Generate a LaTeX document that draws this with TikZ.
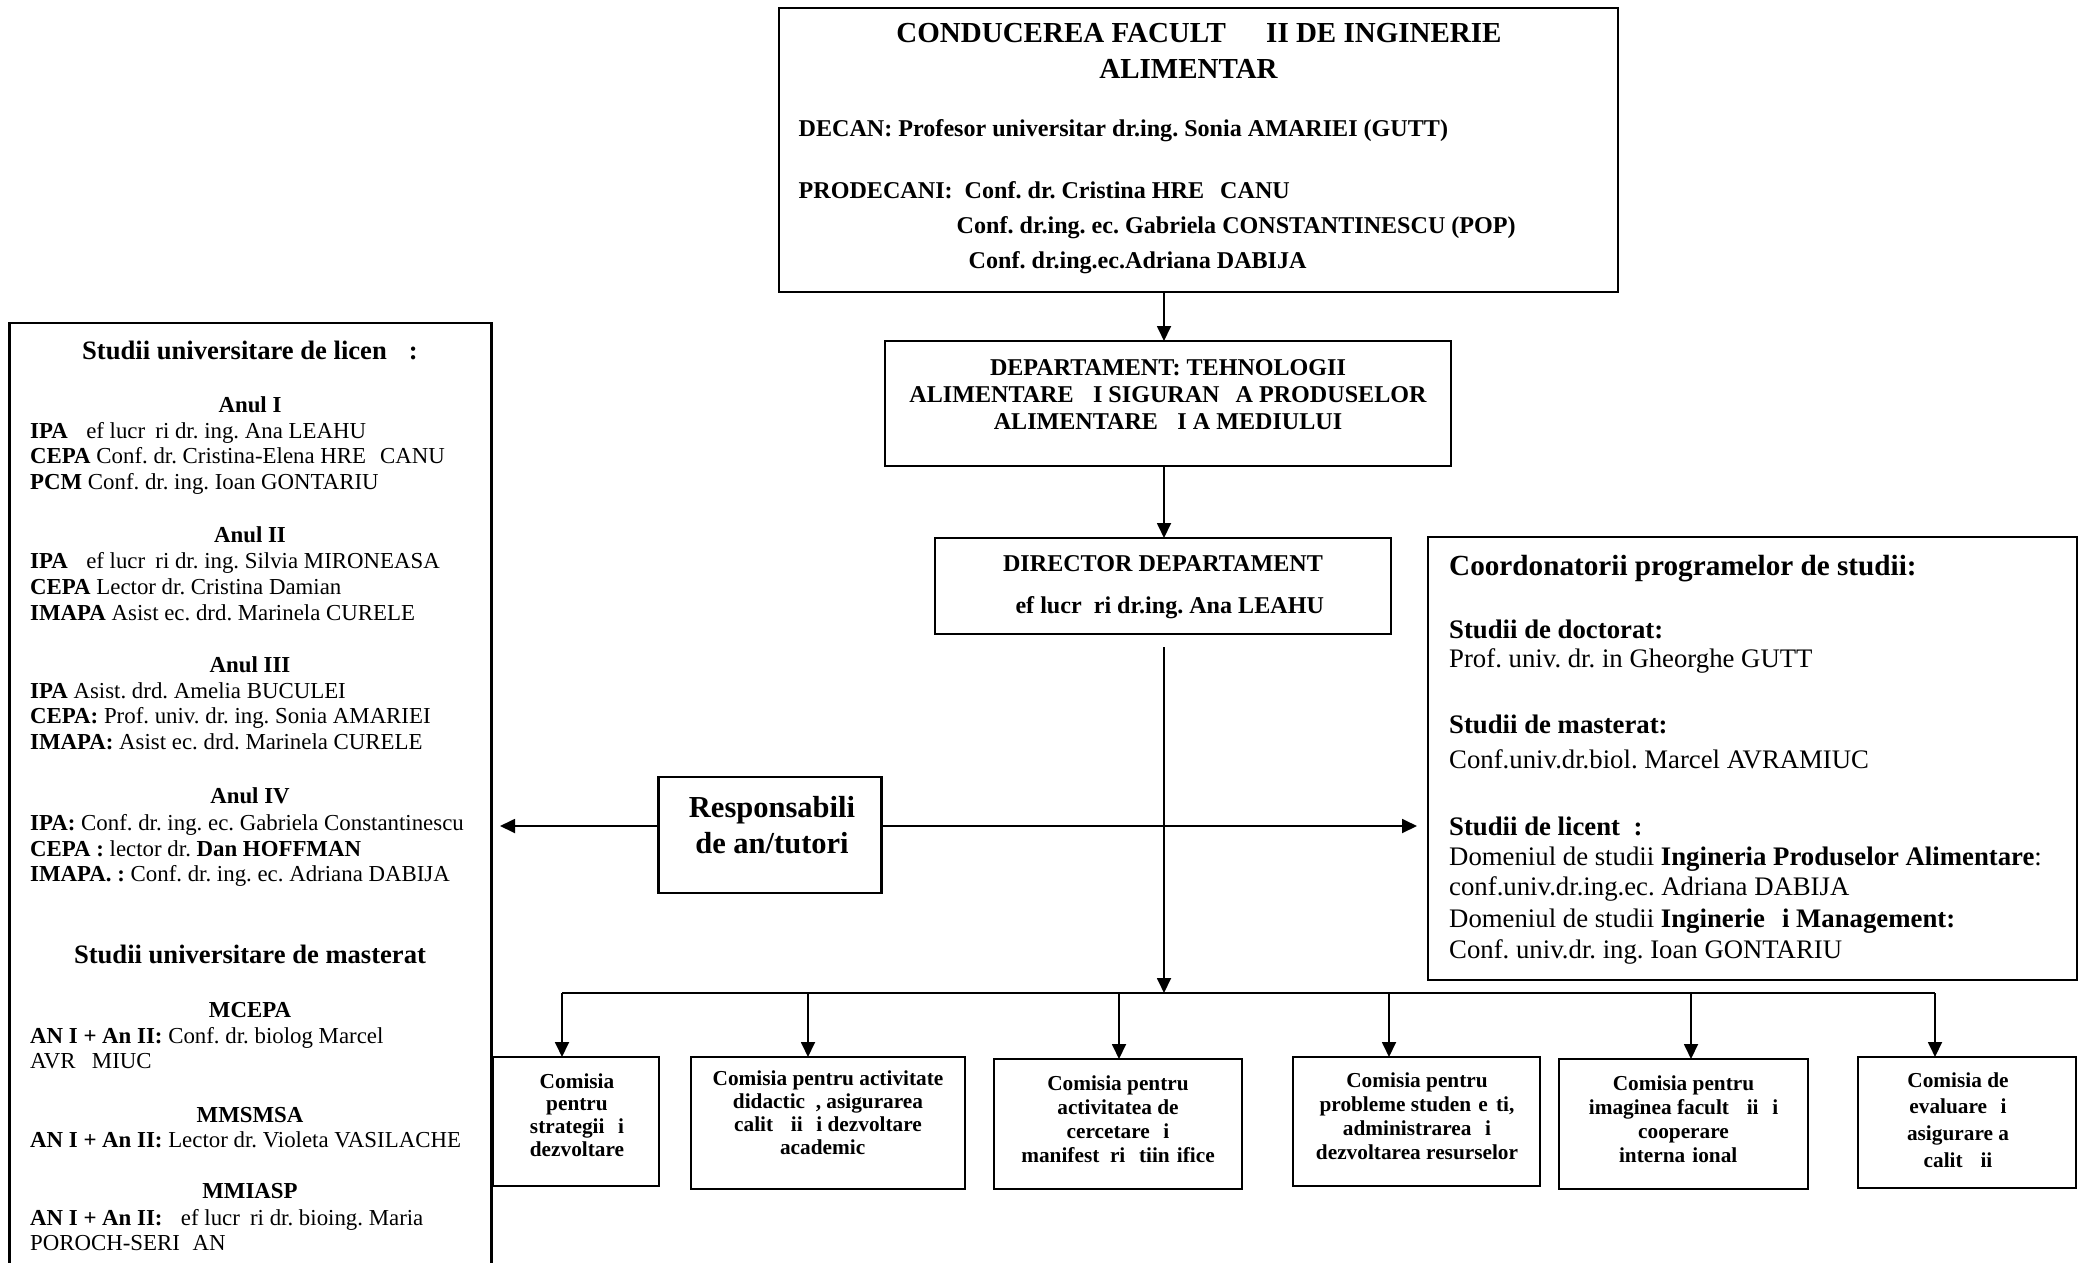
\documentclass[tikz,border=0pt]{standalone}
\usepackage{fontspec}
\setmainfont{Liberation Serif}
\usetikzlibrary{arrows.meta}
\frenchspacing
\newcommand\myTitleFont{\fontsize{29}{33}\selectfont\bfseries}
\newcommand\myTopFont{\fontsize{24.1}{27}\selectfont\bfseries}
\newcommand\myLeftFont{\fontsize{22.85}{25.8}\selectfont}
\newcommand\myLeftHead{\fontsize{26.6}{30}\selectfont\bfseries}
\newcommand\myRightFont{\fontsize{26.75}{30}\selectfont}
\newcommand\myRightHead{\fontsize{29.2}{33}\selectfont\bfseries}
\newcommand\myComFont{\fontsize{21.3}{24}\selectfont\bfseries}
\newcommand\myRespFont{\fontsize{30.5}{35}\selectfont\bfseries}
\begin{document}
\frenchspacing
\begin{tikzpicture}[x=1pt,y=-1pt,
  box/.style={draw, line width=2.4pt, inner sep=0pt, outer sep=0pt},
  conn/.style={line width=1.8pt},
  arr/.style={conn, -{Triangle[length=15pt,width=14pt]}},
  tl/.style={inner sep=0pt, anchor=base west},
  tc/.style={inner sep=0pt, anchor=base},
  every node/.append style={execute at begin node=\frenchspacing},
]
\useasboundingbox[fill=white] (0,0) rectangle (2086,1263);

% ---------- boxes ----------
\node[box, minimum width=839pt, minimum height=284pt] (top) at (1198.5,150) {};
\node[box, minimum width=566pt, minimum height=125pt] (dept) at (1168,403.5) {};
\node[box, minimum width=456pt, minimum height=96pt] (dir) at (1163,586) {};
\node[box, minimum width=482pt, minimum height=967pt] (lbox) at (250.5,806.5) {};
\node[box, minimum width=649pt, minimum height=443pt] (rbox) at (1752.5,758.5) {};
\node[box, minimum width=223pt, minimum height=116pt] (resp) at (770,835) {};
\node[box, minimum width=166pt, minimum height=129pt] (b1) at (576,1121.5) {};
\node[box, minimum width=274pt, minimum height=132pt] (b2) at (828,1123) {};
\node[box, minimum width=248pt, minimum height=130pt] (b3) at (1118,1124) {};
\node[box, minimum width=247pt, minimum height=129pt] (b4) at (1416.5,1121.5) {};
\node[box, minimum width=249pt, minimum height=130pt] (b5) at (1683.5,1124) {};
\node[box, minimum width=218pt, minimum height=131pt] (b6) at (1967,1122.5) {};

% ---------- connectors ----------
\coordinate (vx) at (1164,0);
\draw[arr] (top.south -| vx) -- (dept.north -| vx);
\draw[arr] (dept.south -| vx) -- (dir.north -| vx);
\coordinate (dstart) at (1164,647);
\coordinate (busL) at (562,993);
\coordinate (busR) at (1935,993);
\draw[conn] (busL) -- (busR);
\draw[arr] (dstart) -- (dstart |- busL);
\coordinate (d1) at (562,993);
\coordinate (d2) at (808,993);
\coordinate (d3) at (1119,993);
\coordinate (d4) at (1389,993);
\coordinate (d5) at (1691,993);
\coordinate (d6) at (1935,993);
\draw[arr] (d1) -- (d1 |- b1.north);
\draw[arr] (d2) -- (d2 |- b2.north);
\draw[arr] (d3) -- (d3 |- b3.north);
\draw[arr] (d4) -- (d4 |- b4.north);
\draw[arr] (d5) -- (d5 |- b5.north);
\draw[arr] (d6) -- (d6 |- b6.north);
\coordinate (ltip) at (500,826);
\coordinate (rtip) at (1417,826);
\draw[arr] (ltip -| resp.west) -- (ltip);
\draw[arr] (rtip -| resp.east) -- (rtip);

% ---------- top box text ----------
\node[tc] (t1) at (1199,43) {\myTitleFont CONDUCEREA FACULT\phantom{ĂŢ}II DE INGINERIE};
\node[tc] (t2) at (1199,78) {\myTitleFont ALIMENTAR\phantom{Ă}};
\node[tl] (t3) at (798.5,136) {\myTopFont DECAN: Profesor universitar dr.ing. Sonia AMARIEI (GUTT)};
\node[tl] (t4) at (798.5,198) {\myTopFont PRODECANI:\ \ Conf. dr. Cristina HRE\phantom{Ţ}CANU};
\node[tl] (t5) at (956.5,233) {\myTopFont Conf. dr.ing. ec. Gabriela CONSTANTINESCU (POP)};
\node[tl] (t6) at (968.5,268) {\myTopFont Conf. dr.ing.ec.Adriana DABIJA};

% ---------- department ----------
\node[tc] (dp1) at (1168,375) {\myTopFont DEPARTAMENT: TEHNOLOGII};
\node[tc] (dp2) at (1168,402) {\myTopFont ALIMENTARE \phantom{Ş}I SIGURAN\phantom{Ţ}A PRODUSELOR};
\node[tc] (dp3) at (1168,429) {\myTopFont ALIMENTARE \phantom{Ş}I A MEDIULUI};
\node[tc] (dr1) at (1163,571) {\myTopFont DIRECTOR DEPARTAMENT};
\node[tc] (dr2) at (1163,613) {\myTopFont \phantom{Ş}ef lucr\phantom{ă}ri dr.ing. Ana LEAHU};

% ---------- responsabili ----------
\node[tc] (rs1) at (772,817) {\myRespFont Responsabili};
\node[tc] (rs2) at (772,853) {\myRespFont de an/tutori};

% ---------- left box ----------
\node[tc] (lh1) at (250,359) {\myLeftHead Studii universitare de licen\phantom{ţă}:};
\node[tc] (la1) at (250,412) {\myLeftFont\bfseries Anul I};
\node[tl] (l1) at (30,438) {\myLeftFont\textbf{IPA} \phantom{Ş}ef lucr\phantom{ă}ri dr. ing. Ana LEAHU};
\node[tl] (l2) at (30,463) {\myLeftFont\textbf{CEPA} Conf. dr. Cristina-Elena HRE\phantom{Ţ}CANU};
\node[tl] (l3) at (30,489) {\myLeftFont\textbf{PCM} Conf. dr. ing. Ioan GONTARIU};
\node[tc] (la2) at (250,542) {\myLeftFont\bfseries Anul II};
\node[tl] (l4) at (30,568) {\myLeftFont\textbf{IPA} \phantom{Ş}ef lucr\phantom{ă}ri dr. ing. Silvia MIRONEASA};
\node[tl] (l5) at (30,594) {\myLeftFont\textbf{CEPA} Lector dr. Cristina Damian};
\node[tl] (l6) at (30,620) {\myLeftFont\textbf{IMAPA} Asist ec. drd. Marinela CURELE};
\node[tc] (la3) at (250,672) {\myLeftFont\bfseries Anul III};
\node[tl] (l7) at (30,698) {\myLeftFont\textbf{IPA} Asist. drd. Amelia BUCULEI};
\node[tl] (l8) at (30,723) {\myLeftFont\textbf{CEPA:} Prof. univ. dr. ing. Sonia AMARIEI};
\node[tl] (l9) at (30,749) {\myLeftFont\textbf{IMAPA:} Asist ec. drd. Marinela CURELE};
\node[tc] (la4) at (250,803) {\myLeftFont\bfseries Anul IV};
\node[tl] (l10) at (30,830) {\myLeftFont\textbf{IPA:} Conf. dr. ing. ec. Gabriela Constantinescu};
\node[tl] (l11) at (30,856) {\myLeftFont\textbf{CEPA :} lector dr. \textbf{Dan HOFFMAN}};
\node[tl] (l12) at (30,881) {\myLeftFont\textbf{IMAPA. :} Conf. dr. ing. ec. Adriana DABIJA};
\node[tc] (lh2) at (250,963) {\myLeftHead Studii universitare de masterat};
\node[tc] (lm1) at (250,1017) {\myLeftFont\bfseries MCEPA};
\node[tl] (l13) at (30,1043) {\myLeftFont\textbf{AN I + An II:} Conf. dr. biolog Marcel};
\node[tl] (l14) at (30,1068) {\myLeftFont AVR\phantom{Ă}MIUC};
\node[tc] (lm2) at (250,1122) {\myLeftFont\bfseries MMSMSA};
\node[tl] (l15) at (30,1147) {\myLeftFont\textbf{AN I + An II:} Lector dr. Violeta VASILACHE};
\node[tc] (lm3) at (250,1198) {\myLeftFont\bfseries MMIASP};
\node[tl] (l16) at (30,1225) {\myLeftFont\textbf{AN I + An II:} \phantom{Ş}ef lucr\phantom{ă}ri dr. bioing. Maria};
\node[tl] (l17) at (30,1250) {\myLeftFont POROCH-SERI\phantom{Ş}AN};

% ---------- right box ----------
\node[tl] (r0) at (1449,575) {\myRightHead Coordonatorii programelor de studii:};
\node[tl] (r1) at (1449,638) {\myRightFont\bfseries Studii de doctorat:};
\node[tl] (r2) at (1449,667) {\myRightFont Prof. univ. dr. in Gheorghe GUTT};
\node[tl] (r3) at (1449,733) {\myRightFont\bfseries Studii de masterat:};
\node[tl] (r4) at (1449,768) {\myRightFont Conf.univ.dr.biol. Marcel AVRAMIUC};
\node[tl] (r5) at (1449,835) {\myRightFont\bfseries Studii de licent\phantom{ă}:};
\node[tl] (r6) at (1449,865) {\myRightFont Domeniul de studii \textbf{Ingineria Produselor Alimentare}:};
\node[tl] (r7) at (1449,895) {\myRightFont conf.univ.dr.ing.ec. Adriana DABIJA};
\node[tl] (r8) at (1449,927) {\myRightFont Domeniul de studii \textbf{Inginerie \phantom{ş}i Management:}};
\node[tl] (r9) at (1449,958) {\myRightFont Conf. univ.dr. ing. Ioan GONTARIU};

% ---------- commission boxes text ----------
\foreach \t [count=\i] in {Comisia, pentru, strategii \phantom{ş}i, dezvoltare}
  \node[tc] (c1l\i) at (577,{1088+22.7*(\i-1)}) {\myComFont \t};
\foreach \t [count=\i] in {Comisia pentru activitate, {didactic\phantom{ă}, asigurarea}, calit\phantom{ăţ}ii \phantom{ş}i dezvoltare, academic\phantom{ă}}
  \node[tc] (c2l\i) at (828,{1085+23.3*(\i-1)}) {\myComFont \t};
\foreach \t [count=\i] in {Comisia pentru, activitatea de, cercetare \phantom{ş}i, manifest\phantom{ă}ri \phantom{ş}tiin\phantom{ţ}ifice}
  \node[tc] (c3l\i) at (1118,{1090+24*(\i-1)}) {\myComFont \t};
\foreach \t [count=\i] in {Comisia pentru, {probleme studen\phantom{ţ}e\phantom{ş}ti,}, administrarea \phantom{ş}i, dezvoltarea resurselor}
  \node[tc] (c4l\i) at (1417,{1087+24.3*(\i-1)}) {\myComFont \t};
\foreach \t [count=\i] in {Comisia pentru, imaginea facult\phantom{ăţ}ii \phantom{ş}i, cooperare, interna\phantom{ţ}ional\phantom{ă}}
  \node[tc] (c5l\i) at (1683.5,{1090+24.3*(\i-1)}) {\myComFont \t};
\foreach \t [count=\i] in {Comisia de, evaluare \phantom{ş}i, asigurare a, calit\phantom{ăţ}ii}
  \node[tc] (c6l\i) at (1958,{1087+26.7*(\i-1)}) {\myComFont \t};
\end{tikzpicture}
\end{document}
